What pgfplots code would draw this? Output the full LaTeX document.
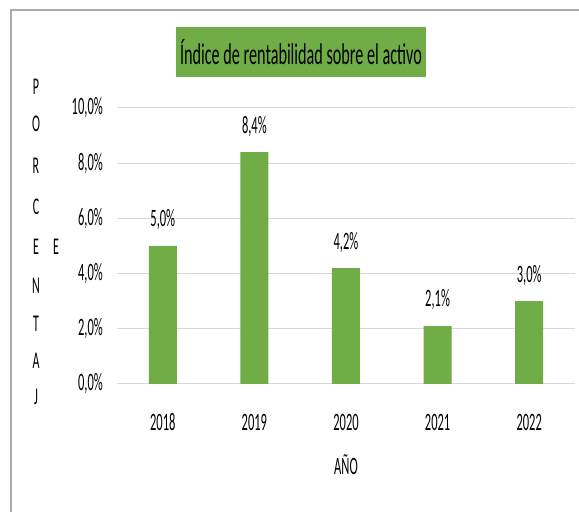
\documentclass[border=0pt]{standalone}
\usepackage{fontspec}
\setmainfont{Carlito}[FakeStretch=0.5]
\newfontfamily\titlefont{Carlito}[FakeStretch=0.54]
\usepackage{pgfplots}
\pgfplotsset{compat=1.18}
\definecolor{bargreen}{HTML}{70AD47}
\definecolor{gridgray}{HTML}{D9D9D9}
\definecolor{bordergray}{HTML}{ABABAB}
\begin{document}
\begin{tikzpicture}[x=1pt,y=1pt]
\useasboundingbox (0,0) rectangle (579,512);
\draw[bordergray, line width=1.3pt] (11,0) -- (11,502) -- (579,502);
\fill[bargreen] (176,435) rectangle (426,485);
\node[font=\titlefont\fontsize{30}{34}\selectfont, inner sep=0pt] at (301,460) {Índice de rentabilidad sobre el activo};
\foreach \l/\yy in {P/87,O/124,R/166,C/207,E/247,N/286,T/324,A/361,J/397}{
  \node[font=\fontsize{24}{28}\selectfont, inner sep=0pt] at (36,512-\yy) {\l};
}
\node[font=\fontsize{24}{28}\selectfont, inner sep=0pt] at (56,512-247) {E};
\begin{axis}[
  at={(117pt,128pt)}, anchor=south west,
  scale only axis, width=458pt, height=276pt,
  xmin=-0.5, xmax=4.5, ymin=0, ymax=10,
  axis line style={draw=none},
  ymajorgrids, grid style={gridgray, line width=1pt},
  ytick={0,2,4,6,8,10},
  yticklabels={0{,}0\%,2{,}0\%,4{,}0\%,6{,}0\%,8{,}0\%,10{,}0\%},
  xtick={0,1,2,3,4},
  xticklabels={2018,2019,2020,2021,2022},
  major tick length=0pt,
  tick label style={font=\fontsize{25}{28}\selectfont, inner sep=0pt},
  yticklabel style={anchor=east, xshift=-14pt},
  xticklabel style={anchor=center, yshift=-38pt},
  clip=false,
]
\addplot[ybar, bar width=28pt, fill=bargreen, draw=none,
  point meta=explicit symbolic,
  nodes near coords,
  every node near coord/.append style={font=\fontsize{25}{28}\selectfont, inner sep=0pt, anchor=center, yshift=26pt}]
  coordinates {(0,5.0)[5{,}0\%] (1,8.4)[8{,}4\%] (2,4.2)[4{,}2\%] (3,2.1)[2{,}1\%] (4,3.0)[3{,}0\%]};
\end{axis}
\node[font=\fontsize{25}{28}\selectfont, inner sep=0pt] at (346,512-465) {AÑO};
\end{tikzpicture}
\end{document}
